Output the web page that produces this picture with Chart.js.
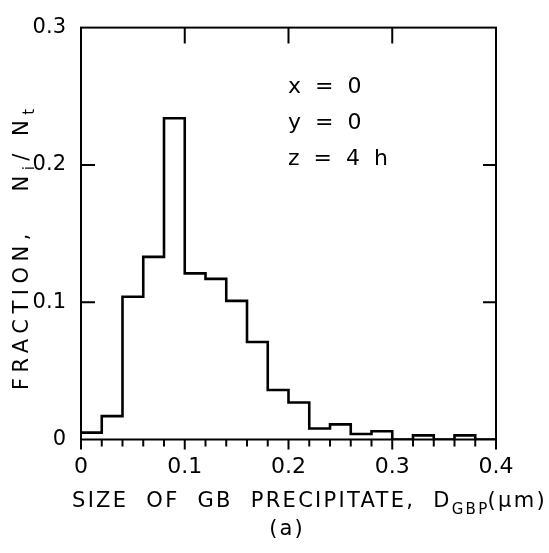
<!DOCTYPE html>
<html lang="en">
<head>
    <meta charset="UTF-8">
    <title>GB precipitate size distribution</title>
    <script src="https://cdn.jsdelivr.net/npm/chart.js"></script>
    <style>
        html, body { margin: 0; padding: 0; background: #fff; }
        #chart { display: block; }
    </style>
</head>
<body>
    <canvas id="chart" width="549" height="553"></canvas>

    <script>
        // histogram bin edges (um) and fraction per bin
        const binEdges = [0, 0.02, 0.04, 0.06, 0.08, 0.10, 0.12, 0.14, 0.16, 0.18, 0.20,
                          0.22, 0.24, 0.26, 0.28, 0.30, 0.32, 0.34, 0.36, 0.38, 0.40];
        const fractions = [0.005, 0.017, 0.104, 0.133, 0.234, 0.121, 0.117, 0.101, 0.071, 0.036,
                           0.027, 0.008, 0.011, 0.004, 0.006, 0, 0.003, 0, 0.003, 0];
        const xTicks = [0, 0.1, 0.2, 0.3, 0.4];
        const yTicks = [0, 0.1, 0.2, 0.3];
        const notes = ['x  =  0', 'y  =  0', 'z  =  4  h'];

        const FONT = '"DejaVu Sans", sans-serif';

        // step outline: each bin holds its value until the next edge
        const steps = fractions.map((v, i) => ({ x: binEdges[i], y: v }));
        steps.push({ x: binEdges[binEdges.length - 1], y: 0 });

        const framePlugin = {
            id: 'frame',
            afterDraw(chart) {
                const { ctx, chartArea: a, scales: { x, y } } = chart;
                ctx.save();
                ctx.strokeStyle = '#000';
                ctx.lineWidth = 2;
                ctx.strokeRect(a.left, a.top, a.right - a.left, a.bottom - a.top);

                ctx.beginPath();
                // bottom ticks, outward, minor at every bin edge
                binEdges.forEach(e => {
                    const px = x.getPixelForValue(e);
                    const major = xTicks.some(t => Math.abs(t - e) < 1e-9);
                    ctx.moveTo(px, a.bottom);
                    ctx.lineTo(px, a.bottom + (major ? 10 : 7));
                });
                // top ticks, inward
                xTicks.slice(1, -1).forEach(t => {
                    const px = x.getPixelForValue(t);
                    ctx.moveTo(px, a.top);
                    ctx.lineTo(px, a.top + 16);
                });
                // left / right ticks, inward
                yTicks.slice(1, -1).forEach(t => {
                    const py = y.getPixelForValue(t);
                    ctx.moveTo(a.left, py);
                    ctx.lineTo(a.left + 14, py);
                    ctx.moveTo(a.right, py);
                    ctx.lineTo(a.right - 13, py);
                });
                ctx.stroke();

                ctx.fillStyle = '#000';
                ctx.textBaseline = 'alphabetic';

                // annotation
                ctx.font = '22px ' + FONT;
                ctx.textAlign = 'left';
                notes.forEach((t, i) => ctx.fillText(t, 288, 93 + i * 36));

                // x title
                ctx.letterSpacing = '2.3px';
                let cx = 72;
                const bx = 507;
                const put = (txt, size, dy) => {
                    ctx.font = size + 'px ' + FONT;
                    ctx.fillText(txt, cx, bx + dy);
                    cx += ctx.measureText(txt).width;
                };
                put('SIZE  OF  GB  PRECIPITATE,  D', 21, 0);
                put('GBP', 15, 7);
                cx -= 2;
                put('(\u03bcm)', 21, 0);

                // panel label
                ctx.letterSpacing = '2px';
                ctx.font = '21px ' + FONT;
                ctx.textAlign = 'center';
                ctx.fillText('(a)', 287, 535);
                ctx.textAlign = 'left';

                // y title, rotated
                ctx.letterSpacing = '5.5px';
                ctx.translate(28, 390);
                ctx.rotate(-Math.PI / 2);
                cx = 0;
                const putY = (txt, size, dy) => {
                    ctx.font = size + 'px ' + FONT;
                    ctx.fillText(txt, cx, dy);
                    cx += ctx.measureText(txt).width;
                };
                putY('FRACTION,   N', 21, 0);
                putY('i', 15, 6);
                putY('/ N', 21, 0);
                putY('t', 15, 6);
                ctx.restore();
            }
        };

        new Chart(document.getElementById('chart'), {
            type: 'line',
            data: {
                datasets: [{
                    data: steps,
                    stepped: true,
                    borderColor: '#000',
                    borderWidth: 2.6,
                    pointRadius: 0,
                    fill: false
                }]
            },
            options: {
                responsive: false,
                animation: false,
                layout: { padding: { left: 0, top: 21, right: 53, bottom: 73.5 } },
                plugins: {
                    legend: { display: false },
                    tooltip: { enabled: false }
                },
                scales: {
                    x: {
                        type: 'linear',
                        min: 0,
                        max: 0.4,
                        afterBuildTicks: s => { s.ticks = xTicks.map(v => ({ value: v })); },
                        afterFit: s => { s.height = 40; },
                        grid: { display: false, drawTicks: false },
                        border: { display: false },
                        ticks: {
                            padding: 15,
                            color: '#000',
                            font: { family: FONT, size: 22 },
                            callback: v => v === 0 ? '0' : String(v)
                        }
                    },
                    y: {
                        min: 0,
                        max: 0.3,
                        afterBuildTicks: s => { s.ticks = yTicks.map(v => ({ value: v })); },
                        afterFit: s => { s.width = 81; },
                        grid: { display: false, drawTicks: false },
                        border: { display: false },
                        ticks: {
                            padding: 15,
                            color: '#000',
                            font: { family: FONT, size: 21 },
                            callback: v => v === 0 ? '0' : String(v)
                        }
                    }
                }
            },
            plugins: [framePlugin]
        });
    </script>
</body>
</html>
